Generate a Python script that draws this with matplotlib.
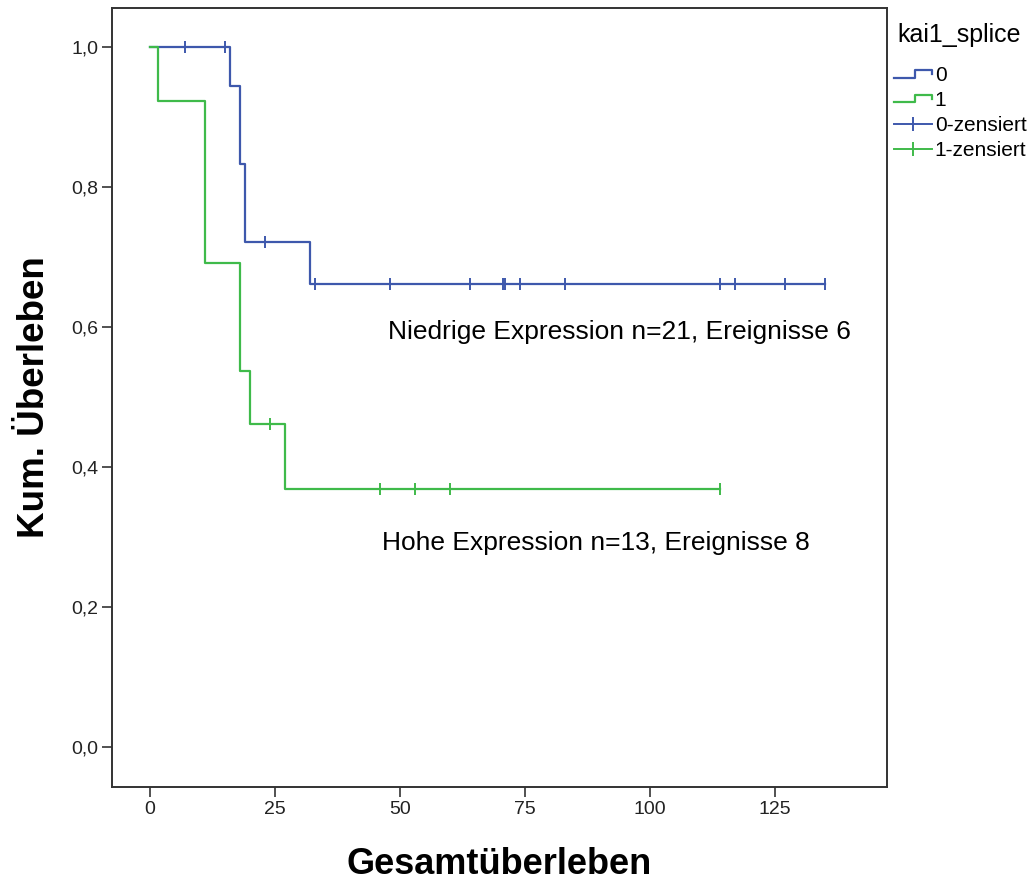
import matplotlib
matplotlib.use("Agg")
import matplotlib.pyplot as plt
from matplotlib.lines import Line2D
from matplotlib.legend_handler import HandlerBase

plt.rcParams['font.family'] = ['Liberation Sans', 'DejaVu Sans']

# Kaplan-Meier Stufen (Zeit, Überleben nach dem Ereignis)
t_0 = [0, 16, 18, 19, 32]
s_0 = [1.0, 0.944, 0.833, 0.722, 0.661]
end_0 = 135
cens_0 = [7, 15, 23, 33, 48, 64, 70.5, 71, 74, 83, 114, 117, 127, 135]

t_1 = [0, 1.5, 11, 18, 20, 27]
s_1 = [1.0, 0.923, 0.692, 0.538, 0.462, 0.369]
end_1 = 114
cens_1 = [24, 46, 53, 60, 114]

blue = '#3e58ac'
green = '#3fba4a'
ytick_vals = [0.0, 0.2, 0.4, 0.6, 0.8, 1.0]
ytick_labels = ['0,0', '0,2', '0,4', '0,6', '0,8', '1,0']
xtick_vals = [0, 25, 50, 75, 100, 125]

W, H = 1035, 881


def step_value(t, s, x):
    v = s[0]
    for ti, si in zip(t, s):
        if x >= ti:
            v = si
    return v


class StepHandler(HandlerBase):
    def create_artists(self, legend, orig_handle, xdescent, ydescent,
                       width, height, fontsize, trans):
        x0 = -xdescent
        y0 = -ydescent
        xs = [x0, x0 + width * 0.55, x0 + width * 0.55, x0 + width, x0 + width]
        ys = [y0 + height * 0.2, y0 + height * 0.2, y0 + height * 0.8,
              y0 + height * 0.8, y0 + height * 0.45]
        ln = Line2D(xs, ys, color=orig_handle.get_color(), lw=1.6, transform=trans)
        return [ln]


fig = plt.figure(figsize=(W / 100, H / 100), dpi=100)
ax = fig.add_axes([112 / W, 1 - 787 / H, 775 / W, 779 / H])

for t, s, end, cens, col in [(t_0, s_0, end_0, cens_0, blue), (t_1, s_1, end_1, cens_1, green)]:
    ax.step(t + [end], s + [s[-1]], where='post', color=col, lw=1.6)
    cy = [step_value(t, s, c) for c in cens]
    ax.plot(cens, cy, linestyle='none', marker='|', markersize=8, mew=1.4, color=col)

ax.set_xlim(-7.6, 147.4)
ax.set_ylim(-0.057, 1.056)
ax.set_xticks(xtick_vals)
ax.set_xticklabels([str(v) for v in xtick_vals])
ax.set_yticks(ytick_vals)
ax.set_yticklabels(ytick_labels)
ax.tick_params(axis='both', length=7, width=1.2, color='#333333', labelsize=14,
               labelcolor='#222222', pad=3)
for sp in ax.spines.values():
    sp.set_color('#333333')
    sp.set_linewidth(1.4)

ax.set_xlabel('Gesamtüberleben', fontsize=26, fontweight='bold', labelpad=21)
ax.set_ylabel('Kum. Überleben', fontsize=26.5, fontweight='bold', labelpad=14)

ax.text(388 / W, 1 - 332 / H, 'Niedrige Expression n=21, Ereignisse 6', fontsize=19,
        transform=fig.transFigure, va='center')
ax.text(382 / W, 1 - 543 / H, 'Hohe Expression n=13, Ereignisse 8', fontsize=19,
        transform=fig.transFigure, va='center')

fig.text(897 / W, 1 - 35 / H, 'kai1_splice', fontsize=18, va='center', ha='left')

handles = [Line2D([], [], color=blue), Line2D([], [], color=green),
           Line2D([], [], color=blue, marker='|', markersize=10, mew=1.4, lw=1.4),
           Line2D([], [], color=green, marker='|', markersize=10, mew=1.4, lw=1.4)]
labels = ['0', '1', '0-zensiert', '1-zensiert']
leg = fig.legend(handles, labels, loc='upper left',
                 bbox_to_anchor=(894 / W, 1 - 66 / H), frameon=False,
                 fontsize=15, handlelength=1.8, handleheight=0.6,
                 handletextpad=0.15, labelspacing=0.28,
                 borderaxespad=0, borderpad=0,
                 handler_map={handles[0]: StepHandler(), handles[1]: StepHandler()})

fig.savefig('out.png', dpi=100)
